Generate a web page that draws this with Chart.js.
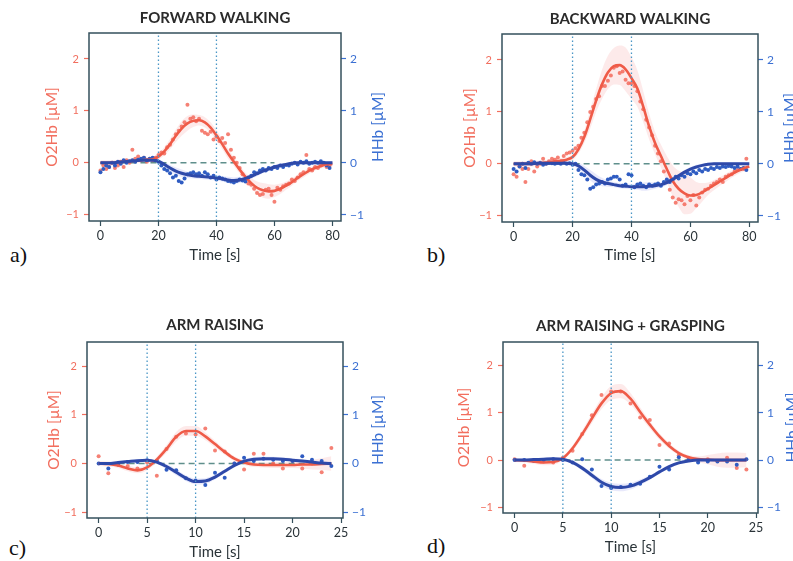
<!DOCTYPE html>
<html>
<head>
<meta charset="utf-8">
<script src="https://cdn.jsdelivr.net/npm/chart.js@4.4.1/dist/chart.umd.min.js"></script>
<style>
  html, body { margin: 0; padding: 0; background: #fff; }
  body { width: 793px; height: 561px; position: relative; overflow: hidden; }
  canvas { position: absolute; }
  .tag { position: absolute; font-family: "Liberation Serif", "DejaVu Serif", serif; font-size: 22px; line-height: 22px; color: #111; }
</style>
</head>
<body>
<div class="tag" style="left:10px;top:244px">a)</div>
<div class="tag" style="left:427px;top:244px">b)</div>
<div class="tag" style="left:9px;top:537px">c)</div>
<div class="tag" style="left:427px;top:535px">d)</div>
<script>
// ---- data ----
const walkFitTime = [0,2,4,6,8,10,12,14,16,18,20,22,24,26,28,30,32,34,36,38,40,42,44,46,48,50,52,54,56,58,60,62,64,66,68,70,72,74,76,78,80];
const walkSampleTime = [0,1,2,3,4,5,6,7,8,9,10,11,12,13,14,15,16,17,18,19,20,21,22,23,24,25,26,27,28,29,30,31,32,33,34,35,36,37,38,39,40,41,42,43,44,45,46,47,48,49,50,51,52,53,54,55,56,57,58,59,60,61,62,63,64,65,66,67,68,69,70,71,72,73,74,75,76,77,78,79];
const armTime = [0,1,2,3,4,5,6,7,8,9,10,11,12,13,14,15,16,17,18,19,20,21,22,23,24];

const walkTicks = [0, 20, 40, 60, 80];
const armTicks = [0, 5, 10, 15, 20, 25];
const concTicks = [-1, 0, 1, 2];
const walkEvents = [20, 40];
const armEvents = [5, 10];
const walkBaseline = [0, 60];
const armBaseline = [0, 24];

// forward walking
const fwdO2Fit = [0,0,0,0.01,0.02,0.03,0.04,0.05,0.06,0.07,0.12,0.22,0.36,0.52,0.66,0.76,0.81,0.82,0.78,0.68,0.53,0.36,0.18,0.02,-0.13,-0.27,-0.39,-0.48,-0.53,-0.55,-0.54,-0.5,-0.44,-0.37,-0.29,-0.22,-0.15,-0.1,-0.06,-0.03,-0.02];
const fwdO2Sd = [0.05,0.05,0.05,0.05,0.05,0.05,0.05,0.05,0.05,0.05,0.06,0.08,0.1,0.12,0.14,0.14,0.12,0.1,0.1,0.1,0.1,0.1,0.1,0.08,0.08,0.08,0.1,0.12,0.14,0.14,0.12,0.1,0.08,0.07,0.06,0.06,0.06,0.05,0.05,0.05,0.05];
const fwdHHbFit = [0,0,0,0.01,0.02,0.03,0.04,0.05,0.05,0.05,0.03,-0.03,-0.1,-0.16,-0.2,-0.23,-0.25,-0.26,-0.27,-0.28,-0.29,-0.31,-0.33,-0.34,-0.33,-0.3,-0.26,-0.21,-0.16,-0.12,-0.08,-0.05,-0.03,-0.01,0,0,0,0,0,0,0];
const fwdHHbSd = [0.03,0.03,0.03,0.03,0.03,0.03,0.03,0.03,0.03,0.03,0.04,0.05,0.06,0.07,0.07,0.06,0.05,0.05,0.05,0.05,0.05,0.05,0.06,0.06,0.06,0.05,0.05,0.05,0.04,0.04,0.04,0.04,0.03,0.03,0.03,0.03,0.03,0.03,0.03,0.03,0.03];
const fwdO2Raw = [-0.15,-0.05,-0.12,-0.08,0,-0.1,-0.05,0.02,-0.08,0.05,0,0.25,0.08,0.12,0.05,0.1,0.02,0.08,0.05,0.1,0.15,0.2,0.18,0.3,0.35,0.45,0.55,0.62,0.7,0.78,1.12,0.85,0.88,0.8,0.85,0.62,0.58,0.55,0.6,0.45,0.5,0.42,0.48,0.38,0.55,0.25,0.1,0,-0.1,-0.22,-0.3,-0.4,-0.42,-0.5,-0.58,-0.62,-0.6,-0.52,-0.5,-0.62,-0.75,-0.48,-0.52,-0.45,-0.42,-0.4,-0.32,-0.35,-0.28,-0.22,-0.18,0.15,-0.12,-0.15,-0.08,-0.1,-0.05,-0.02,-0.08,-0.05];
const fwdHHbRaw = [-0.18,-0.12,-0.05,-0.08,0,-0.05,0.02,-0.02,0.05,0,0.03,0.05,0.02,0.06,0.08,0.1,0.05,0.08,0.1,0.05,0.02,-0.05,-0.12,-0.15,-0.2,-0.28,-0.25,-0.35,-0.38,-0.3,-0.22,-0.2,-0.18,-0.22,-0.2,-0.25,-0.18,-0.22,-0.28,-0.25,-0.32,-0.28,-0.3,-0.32,-0.35,-0.36,-0.38,-0.35,-0.32,-0.34,-0.36,-0.28,-0.25,-0.18,-0.2,-0.15,-0.12,-0.15,-0.1,-0.12,-0.08,-0.1,-0.05,-0.08,-0.04,-0.05,-0.02,0,-0.03,0.02,0,0.03,-0.02,0,0.02,0,0.03,0,-0.05,-0.1];

// backward walking
const bwdO2Fit = [0,0,0,0,0.01,0.02,0.03,0.05,0.06,0.08,0.13,0.28,0.52,0.86,1.22,1.53,1.76,1.88,1.9,1.82,1.65,1.45,1.1,0.72,0.4,0.15,-0.1,-0.33,-0.48,-0.57,-0.61,-0.6,-0.55,-0.48,-0.41,-0.34,-0.27,-0.2,-0.14,-0.09,-0.05];
const bwdO2Sd = [0.05,0.05,0.05,0.05,0.05,0.05,0.05,0.05,0.05,0.05,0.06,0.08,0.12,0.18,0.22,0.28,0.32,0.35,0.38,0.42,0.4,0.35,0.3,0.25,0.22,0.22,0.25,0.3,0.35,0.4,0.35,0.25,0.18,0.12,0.1,0.08,0.08,0.07,0.06,0.06,0.06];
const bwdHHbFit = [0,0,0,0,0.01,0.01,0.01,0.01,0.01,0.01,0,-0.04,-0.12,-0.22,-0.3,-0.35,-0.38,-0.4,-0.42,-0.43,-0.44,-0.44,-0.44,-0.43,-0.42,-0.4,-0.36,-0.3,-0.23,-0.16,-0.1,-0.06,-0.03,-0.01,0,0,0,0,0,0,0];
const bwdHHbSd = [0.03,0.03,0.03,0.03,0.03,0.03,0.03,0.03,0.03,0.03,0.04,0.06,0.08,0.1,0.1,0.08,0.06,0.05,0.05,0.05,0.05,0.06,0.08,0.08,0.06,0.05,0.05,0.05,0.04,0.04,0.04,0.04,0.03,0.03,0.03,0.03,0.03,0.03,0.03,0.03,0.03];
const bwdO2Raw = [-0.2,-0.25,-0.05,-0.1,-0.35,-0.1,0.05,-0.15,-0.05,0,0.1,0,0.05,0.1,0.08,0.12,0.05,0.15,0.2,0.22,0.25,0.3,0.35,0.5,0.6,0.8,1,1.1,1.25,1.3,1.5,1.5,1.6,1.7,1.85,1.88,1.75,1.78,1.62,1.55,1.55,1.5,1.4,1.2,1.05,0.85,0.7,0.55,0.35,0.2,0.05,-0.15,-0.35,-0.5,-0.65,-0.75,-0.68,-0.7,-0.78,-0.62,-0.7,-0.6,-0.8,-0.65,-0.55,-0.5,-0.48,-0.42,-0.38,-0.35,-0.3,-0.35,-0.25,-0.22,-0.2,-0.15,-0.12,-0.1,-0.1,0.1];
const bwdHHbRaw = [-0.1,-0.15,-0.05,0,-0.08,0.02,0,0.03,0,0.02,-0.02,0,0.02,0.01,0,0.02,0,0.03,0,0.01,-0.02,0,-0.12,-0.2,-0.22,-0.3,-0.48,-0.45,-0.4,-0.38,-0.35,-0.38,-0.3,-0.28,-0.25,-0.25,-0.3,-0.42,-0.4,-0.2,-0.22,-0.45,-0.4,-0.38,-0.42,-0.45,-0.4,-0.42,-0.4,-0.38,-0.42,-0.35,-0.3,-0.35,-0.3,-0.25,-0.28,-0.22,-0.25,-0.18,-0.2,-0.15,-0.18,-0.12,-0.15,-0.1,-0.12,-0.08,-0.1,-0.06,-0.08,-0.05,-0.06,-0.04,-0.05,-0.08,-0.05,-0.1,-0.08,-0.12];

// arm raising
const armO2Fit = [0,-0.01,-0.04,-0.1,-0.14,-0.08,0.08,0.3,0.55,0.67,0.67,0.56,0.4,0.24,0.1,0.02,-0.02,-0.03,-0.03,-0.03,-0.03,-0.02,-0.02,-0.01,0];
const armO2Sd = [0.05,0.05,0.05,0.06,0.06,0.06,0.06,0.08,0.1,0.1,0.1,0.08,0.07,0.06,0.05,0.05,0.05,0.05,0.06,0.06,0.06,0.08,0.1,0.12,0.15];
const armHHbFit = [0,0,0.02,0.04,0.06,0.07,0.03,-0.06,-0.18,-0.3,-0.37,-0.36,-0.28,-0.16,-0.04,0.05,0.09,0.1,0.1,0.09,0.07,0.05,0.03,0.01,0];
const armHHbSd = [0.03,0.03,0.03,0.03,0.03,0.03,0.04,0.05,0.06,0.06,0.06,0.06,0.05,0.04,0.04,0.04,0.04,0.04,0.04,0.04,0.04,0.04,0.04,0.04,0.04];
const armO2Raw = [0.15,-0.2,-0.02,-0.05,-0.1,0.02,-0.25,0.3,0.55,0.62,0.6,0.72,0.27,0.25,0,-0.12,0.2,0.2,0,-0.1,0.05,-0.1,0,-0.18,0.32];
const armHHbRaw = [0,-0.1,-0.02,0.03,0.03,0.07,0.06,-0.13,-0.14,-0.3,-0.35,-0.44,-0.19,-0.29,0,0.12,0.05,0.1,0.08,0.05,0.05,0.15,0.08,0.05,-0.05];

// arm raising + grasping
const graspO2Fit = [0,-0.01,-0.03,-0.05,-0.04,0.04,0.25,0.55,0.88,1.2,1.42,1.46,1.3,1.02,0.75,0.5,0.3,0.15,0.06,0.02,0.01,0,0,0,0];
const graspO2Sd = [0.04,0.04,0.05,0.06,0.06,0.05,0.06,0.08,0.1,0.12,0.15,0.15,0.12,0.1,0.08,0.07,0.06,0.05,0.05,0.06,0.1,0.14,0.16,0.16,0.15];
const graspHHbFit = [0,0,0.01,0.02,0.03,0.02,-0.05,-0.17,-0.32,-0.47,-0.56,-0.58,-0.55,-0.47,-0.37,-0.25,-0.14,-0.06,-0.02,0,0,0,0,0,0];
const graspHHbSd = [0.03,0.03,0.03,0.03,0.03,0.03,0.04,0.05,0.06,0.07,0.08,0.08,0.07,0.06,0.05,0.04,0.04,0.03,0.03,0.03,0.03,0.03,0.03,0.03,0.03];
const graspO2Raw = [0.02,-0.12,0,-0.03,-0.05,0.05,0.2,0.55,0.95,1.38,1.45,1.45,1.2,0.9,0.85,0.32,0.35,0.1,0.05,0,0.02,-0.02,0.05,-0.17,-0.2];
const graspHHbRaw = [0,0,-0.02,0,0.02,0,-0.05,0.02,-0.2,-0.55,-0.59,-0.57,-0.52,-0.5,-0.35,-0.14,-0.2,0.06,0,-0.05,-0.03,-0.03,-0.03,-0.1,0.02];

// ---- styles ----
const RED_LINE = '#ef5b48';
const RED_DOT = 'rgba(242,98,82,0.8)';
const RED_BAND = 'rgba(246,130,130,0.17)';
const RED_TEXT = '#f26e5e';
const BLUE_LINE = '#2e49a9';
const BLUE_DOT = '#2f5cc2';
const BLUE_BAND = 'rgba(90,100,225,0.14)';
const BLUE_TEXT = '#3b70d3';
const FRAME = '#35505c';
const EVENT = '#4a96c6';
const BASE = '#5f8f8c';
const INK = '#2a3338';
const FONT = 'Lato, "Open Sans", sans-serif';
const Y_MIN = -1.12, Y_MAX = 2.5;

const panels = [
  { title: 'FORWARD WALKING', canvas: [36, 0, 364, 272], area: [89, 33, 341, 221], titleY: 18, xTitleY: 255,
    leftTitleX: 52, rightTitleX: 378, xRange: [-3.95, 82.95], xTicks: walkTicks, events: walkEvents, baseline: walkBaseline,
    fitTime: walkFitTime, rawTime: walkSampleTime,
    o2Fit: fwdO2Fit, o2Sd: fwdO2Sd, o2Raw: fwdO2Raw, hhbFit: fwdHHbFit, hhbSd: fwdHHbSd, hhbRaw: fwdHHbRaw },
  { title: 'BACKWARD WALKING', canvas: [450, 0, 343, 272], area: [502, 34, 758, 222], titleY: 19, xTitleY: 255,
    leftTitleX: 470, rightTitleX: 790, xRange: [-3.95, 82.95], xTicks: walkTicks, events: walkEvents, baseline: walkBaseline,
    fitTime: walkFitTime, rawTime: walkSampleTime,
    o2Fit: bwdO2Fit, o2Sd: bwdO2Sd, o2Raw: bwdO2Raw, hhbFit: bwdHHbFit, hhbSd: bwdHHbSd, hhbRaw: bwdHHbRaw },
  { title: 'ARM RAISING', canvas: [36, 290, 364, 272], area: [87, 342, 343, 518], titleY: 325, xTitleY: 552,
    leftTitleX: 54, rightTitleX: 378, xRange: [-1.2, 25.2], xTicks: armTicks, events: armEvents, baseline: armBaseline,
    fitTime: armTime, rawTime: armTime,
    o2Fit: armO2Fit, o2Sd: armO2Sd, o2Raw: armO2Raw, hhbFit: armHHbFit, hhbSd: armHHbSd, hhbRaw: armHHbRaw },
  { title: 'ARM RAISING + GRASPING', canvas: [450, 290, 343, 272], area: [503, 342, 758, 513], titleY: 326, xTitleY: 547,
    leftTitleX: 464, rightTitleX: 792, xRange: [-1.2, 25.2], xTicks: armTicks, events: armEvents, baseline: armBaseline,
    fitTime: armTime, rawTime: armTime,
    o2Fit: graspO2Fit, o2Sd: graspO2Sd, o2Raw: graspO2Raw, hhbFit: graspHHbFit, hhbSd: graspHHbSd, hhbRaw: graspHHbRaw }
];

// frame round the plot and the y titles (both read bottom to top)
const panelDecor = {
  id: 'panelDecor',
  afterDatasetsDraw(chart) {
    const {ctx, chartArea: a} = chart;
    ctx.save();
    ctx.strokeStyle = FRAME;
    ctx.lineWidth = 1.5;
    ctx.strokeRect(a.left, a.top, a.right - a.left, a.bottom - a.top);
    ctx.restore();
  },
  afterDraw(chart, args, opts) {
    const {ctx, chartArea: a} = chart;
    const midY = (a.top + a.bottom) / 2;
    opts.labels.forEach(l => {
      ctx.save();
      ctx.translate(l.x, midY);
      ctx.rotate(-Math.PI / 2);
      ctx.font = '15.5px ' + FONT;
      ctx.fillStyle = l.color;
      ctx.textAlign = 'center';
      ctx.textBaseline = 'middle';
      ctx.fillText(l.text, 0, 0);
      ctx.restore();
    });
  }
};

const pts = (xs, ys) => xs.map((x, i) => ({x, y: ys[i]}));
const band = (xs, ys, sd, sign) => xs.map((x, i) => ({x, y: ys[i] + sign * sd[i]}));
const minus = v => v < 0 ? '\u2212' + Math.abs(v) : String(v);

function makePanel(p) {
  const [cx, cy, cw, ch] = p.canvas;
  const [al, at, ar, ab] = p.area;
  const canvas = document.createElement('canvas');
  canvas.width = cw; canvas.height = ch;
  canvas.style.left = cx + 'px'; canvas.style.top = cy + 'px';
  document.body.appendChild(canvas);

  const lh = 18;
  const titleH = at - cy;
  const titleTop = (p.titleY - cy) - lh / 2;
  const xTitleBottom = (cy + ch - p.xTitleY) - lh / 2;

  const datasets = [];
  // std bands
  datasets.push({ data: band(p.fitTime, p.o2Fit, p.o2Sd, 1), yAxisID: 'y', borderWidth: 0, pointRadius: 0, fill: false, cubicInterpolationMode: 'monotone', order: 20 });
  datasets.push({ data: band(p.fitTime, p.o2Fit, p.o2Sd, -1), yAxisID: 'y', borderWidth: 0, pointRadius: 0, fill: '-1', backgroundColor: RED_BAND, cubicInterpolationMode: 'monotone', order: 20 });
  datasets.push({ data: band(p.fitTime, p.hhbFit, p.hhbSd, 1), yAxisID: 'y2', borderWidth: 0, pointRadius: 0, fill: false, cubicInterpolationMode: 'monotone', order: 19 });
  datasets.push({ data: band(p.fitTime, p.hhbFit, p.hhbSd, -1), yAxisID: 'y2', borderWidth: 0, pointRadius: 0, fill: '-1', backgroundColor: BLUE_BAND, cubicInterpolationMode: 'monotone', order: 19 });
  // zero baseline
  datasets.push({ data: p.baseline.map(x => ({x, y: 0})), yAxisID: 'y', borderColor: BASE, borderWidth: 1.5, borderDash: [6, 4], pointRadius: 0, order: 14 });
  // raw samples
  datasets.push({ data: pts(p.rawTime, p.o2Raw), yAxisID: 'y', showLine: false, pointRadius: 2, pointBorderWidth: 0, pointBackgroundColor: RED_DOT, order: 6 });
  datasets.push({ data: pts(p.rawTime, p.hhbRaw), yAxisID: 'y2', showLine: false, pointRadius: 2, pointBorderWidth: 0, pointBackgroundColor: BLUE_DOT, order: 5 });
  // fitted curves
  datasets.push({ data: pts(p.fitTime, p.o2Fit), yAxisID: 'y', borderColor: RED_LINE, borderWidth: 2.6, pointRadius: 0, cubicInterpolationMode: 'monotone', order: 2 });
  datasets.push({ data: pts(p.fitTime, p.hhbFit), yAxisID: 'y2', borderColor: BLUE_LINE, borderWidth: 3, pointRadius: 0, cubicInterpolationMode: 'monotone', order: 1 });
  // event markers, drawn over everything
  p.events.forEach(t => {
    datasets.push({ data: [{x: t, y: Y_MIN}, {x: t, y: Y_MAX}], yAxisID: 'y', borderColor: EVENT, borderWidth: 1.3, borderDash: [1.5, 2.5], pointRadius: 0, order: 0 });
  });

  const yAxis = (side, width, color, size) => ({
    type: 'linear', position: side, min: Y_MIN, max: Y_MAX,
    afterBuildTicks: s => { s.ticks = concTicks.map(v => ({value: v})); },
    afterFit: s => { s.width = width; },
    grid: { drawOnChartArea: false, drawTicks: true, tickLength: 5, tickColor: color, tickWidth: 1.2 },
    border: { display: false },
    ticks: { color, padding: side === 'left' ? 5 : 4, font: { family: FONT, size }, callback: minus }
  });

  new Chart(canvas, {
    type: 'line',
    data: { datasets },
    options: {
      responsive: false,
      animation: false,
      events: [],
      layout: { padding: 0 },
      plugins: {
        legend: { display: false },
        tooltip: { enabled: false },
        title: { display: true, text: p.title, fullSize: false, color: '#2b2b2b',
                 font: { family: FONT, size: 15, weight: 'bold', lineHeight: 1.2 },
                 padding: { top: titleTop, bottom: titleH - titleTop - lh } },
        panelDecor: { labels: [
          { text: 'O2Hb [\u00b5M]', color: RED_TEXT, x: p.leftTitleX - cx },
          { text: 'HHb [\u00b5M]', color: BLUE_TEXT, x: p.rightTitleX - cx }
        ] }
      },
      scales: {
        x: {
          type: 'linear', min: p.xRange[0], max: p.xRange[1],
          afterBuildTicks: s => { s.ticks = p.xTicks.map(v => ({value: v})); },
          afterFit: s => { s.height = cy + ch - ab; },
          grid: { drawOnChartArea: false, drawTicks: true, tickLength: 5, tickColor: FRAME, tickWidth: 1.2 },
          border: { display: false },
          ticks: { color: INK, padding: 2, maxRotation: 0, font: { family: FONT, size: 12.5 } },
          title: { display: true, text: 'Time [s]', color: INK, font: { family: FONT, size: 15, lineHeight: 1.2 },
                   padding: { top: 0, bottom: xTitleBottom } }
        },
        y: yAxis('left', al - cx, RED_TEXT, 11),
        y2: yAxis('right', cx + cw - ar, BLUE_TEXT, 12)
      }
    },
    plugins: [panelDecor]
  });
}

panels.forEach(makePanel);
</script>
</body>
</html>
